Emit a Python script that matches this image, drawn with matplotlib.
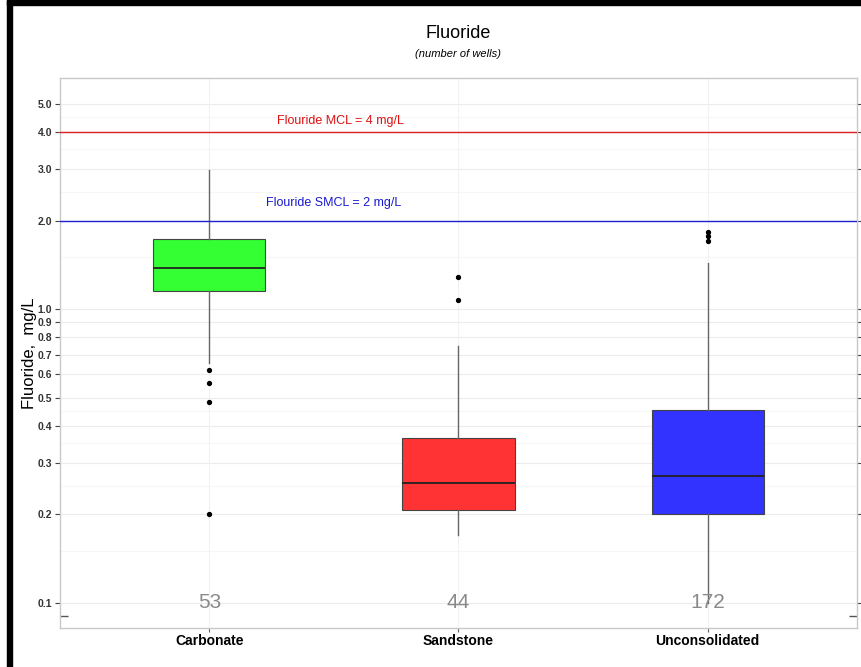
import matplotlib
matplotlib.use("Agg")
import matplotlib.pyplot as plt
from matplotlib.patches import Rectangle
from matplotlib.ticker import FixedLocator, NullFormatter

plt.rcParams['font.family'] = ['Liberation Sans', 'DejaVu Sans']

categories = ["Carbonate", "Sandstone", "Unconsolidated"]
counts = [53, 44, 172]
q1 = [1.15, 0.207, 0.200]
median = [1.38, 0.256, 0.270]
q3 = [1.73, 0.364, 0.453]
whisk_lo = [0.655, 0.170, 0.100]
whisk_hi = [2.97, 0.750, 1.43]
outliers = [[0.62, 0.56, 0.483, 0.20], [1.28, 1.07], [1.83, 1.77, 1.70]]
box_colors = ["#33ff33", "#ff3333", "#3333ff"]

yticks = [0.1, 0.2, 0.3, 0.4, 0.5, 0.6, 0.7, 0.8, 0.9, 1.0, 2.0, 3.0, 4.0, 5.0]
ytick_labels = ["0.1", "0.2", "0.3", "0.4", "0.5", "0.6", "0.7", "0.8", "0.9",
                "1.0", "2.0", "3.0", "4.0", "5.0"]
mcl = 4.0
smcl = 2.0
mcl_label = "Flouride MCL = 4 mg/L"
smcl_label = "Flouride SMCL = 2 mg/L"

fig = plt.figure(figsize=(8.61, 6.67), dpi=100)
ax = fig.add_axes([60/861, 1-628/667, (857-60)/861, (628-78)/667])
ax.set_yscale('log')
ax.set_ylim(0.0822, 6.107)
ax.set_xlim(0.4, 3.6)

# grid
for v in yticks:
    ax.axhline(v, color='#ececec', lw=0.8, zorder=0)
for v in [0.15, 0.25, 0.35, 0.45, 1.5, 2.5, 3.5, 4.5]:
    ax.axhline(v, color='#f6f6f6', lw=0.8, zorder=0)
for i in range(len(categories)):
    ax.axvline(i + 1, color='#f2f2f2', lw=0.8, zorder=0)

stats = []
for i, c in enumerate(categories):
    stats.append(dict(label=c, q1=q1[i], med=median[i], q3=q3[i],
                      whislo=whisk_lo[i], whishi=whisk_hi[i], fliers=outliers[i]))
bp = ax.bxp(stats, positions=[1, 2, 3], widths=0.45, patch_artist=True,
            showcaps=False,
            boxprops=dict(edgecolor='#444444', linewidth=0.8),
            medianprops=dict(color='#222222', linewidth=1.3),
            whiskerprops=dict(color='#666666', linewidth=1.0),
            flierprops=dict(marker='o', markerfacecolor='black', markeredgecolor='black',
                            markersize=2.8))
for patch, col in zip(bp['boxes'], box_colors):
    patch.set_facecolor(col)
    patch.set_zorder(2)

ax.axhline(mcl, color='#dd2020', lw=1.0, zorder=3)
ax.axhline(smcl, color='#2020cc', lw=1.0, zorder=3)
ax.text(1.526, 4.36, mcl_label, color='#dd1111', fontsize=9, ha='center', va='center')
ax.text(1.50, 2.29, smcl_label, color='#1a1acc', fontsize=9, ha='center', va='center')

for i, n in enumerate(counts):
    ax.text(i + 1, 0.1, str(n), color='#8a8a8a', fontsize=15, ha='center', va='center', zorder=5)

# axes styling
ax.set_xticks([1, 2, 3])
ax.set_xticklabels(categories, fontsize=10, fontweight='bold')
ax.tick_params(axis='x', length=3, color='#666666', pad=1.5)
ax.yaxis.set_major_locator(FixedLocator(yticks))
ax.set_yticklabels(ytick_labels, fontsize=7.5, fontweight='bold', color='#333333')
ax.yaxis.set_minor_locator(FixedLocator([0.09, 0.1, 1.0, 5.0]))
ax.yaxis.set_minor_formatter(NullFormatter())
ax.tick_params(axis='y', which='major', direction='out', length=3.5, color='#444444',
               right=True, pad=2)
ax.tick_params(axis='y', which='minor', direction='in', length=6, color='#555555',
               width=1.0, right=True)
for s in ax.spines.values():
    s.set_color('#c8c8c8')
    s.set_linewidth(1.0)

ax.set_ylabel("Fluoride,  mg/L", fontsize=12)
ax.yaxis.set_label_coords(-0.029, 0.5)

fig.text(458/861, 1-33/667, "Fluoride", fontsize=13, ha='center', va='center')
fig.text(458/861, 1-54/667, "(number of wells)", fontsize=8, style='italic',
         ha='center', va='center')

# black frame on left and top
fig.patches.append(Rectangle((7/861, 0), 5/861, 1, transform=fig.transFigure,
                             color='black', zorder=10))
fig.patches.append(Rectangle((7/861, 1-5/667), 1, 5/667, transform=fig.transFigure,
                             color='black', zorder=10))

fig.savefig("out.png", dpi=100)
